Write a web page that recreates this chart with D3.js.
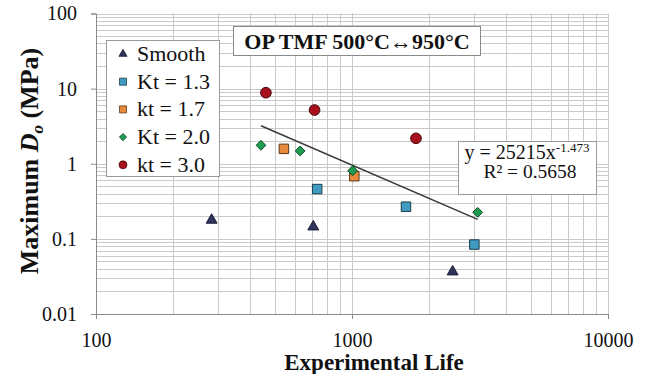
<!DOCTYPE html>
<html>
<head>
<meta charset="utf-8">
<script src="https://cdn.jsdelivr.net/npm/d3@7"></script>
<style>
  html, body { margin: 0; padding: 0; background: #fff; }
  svg { display: block; }
  svg text { font-family: "Liberation Serif", "Times New Roman", serif; fill: #111; }
</style>
</head>
<body>
<svg id="chart" width="646" height="374"></svg>
<script>
// Test data: experimental life vs. maximum D_o for each notch severity
const seriesNames = ["Smooth", "Kt = 1.3", "kt = 1.7", "Kt = 2.0", "kt = 3.0"];
const smoothLife = [283, 706, 2472];
const smoothDo   = [0.178, 0.145, 0.0365];
const kt13Life   = [731, 1625, 3006];
const kt13Do     = [0.46, 0.268, 0.084];
const kt17Life   = [542, 1021];
const kt17Do     = [1.58, 0.682];
const kt20Life   = [441, 627, 1006, 3097];
const kt20Do     = [1.76, 1.48, 0.807, 0.2255];
const kt30Life   = [461, 714, 1778];
const kt30Do     = [8.82, 5.19, 2.18];

// Power-law fit over the notched specimens
const fitCoef = 25215;
const fitExp  = -1.473;
const fitR2   = 0.5658;

const xTicks = [100, 1000, 10000];
const yTicks = [0.01, 0.1, 1, 10, 100];

const FONT = "Liberation Serif";
const svg = d3.select("#chart");
const x = d3.scaleLog().domain([100, 10000]).range([96, 608]);
const y = d3.scaleLog().domain([0.01, 100]).range([314, 13.5]);

// grid: every 1..9 step in each decade
const gridX = [], gridY = [];
[100, 1000].forEach(d => { for (let k = 1; k <= 10; k++) gridX.push(d * k); });
[0.01, 0.1, 1, 10].forEach(d => { for (let k = 1; k <= 10; k++) gridY.push(+(d * k).toPrecision(3)); });

const grid = svg.append("g").attr("stroke", "#c9c9c9").attr("stroke-width", 1);
grid.selectAll("line.gx").data(gridX).join("line")
  .attr("x1", d => Math.round(x(d)) + 0.5).attr("x2", d => Math.round(x(d)) + 0.5)
  .attr("y1", y(0.01)).attr("y2", y(100));
grid.selectAll("line.gy").data(gridY).join("line")
  .attr("y1", d => Math.round(y(d)) + 0.5).attr("y2", d => Math.round(y(d)) + 0.5)
  .attr("x1", x(100)).attr("x2", x(10000));

// axes
const xAxis = svg.append("g").attr("transform", `translate(0,${y(0.01)})`)
  .call(d3.axisBottom(x).tickValues(xTicks).tickFormat(d => String(d)).tickSize(5).tickPadding(14));
const yAxis = svg.append("g").attr("transform", `translate(${x(100)},0)`)
  .call(d3.axisLeft(y).tickValues(yTicks).tickFormat(d => String(d)).tickSize(5).tickPadding(14));
[xAxis, yAxis].forEach(g => {
  g.select(".domain").attr("stroke", "#8a8a8a");
  g.selectAll(".tick line").attr("stroke", "#8a8a8a");
  g.selectAll(".tick text").attr("font-size", 20).attr("fill", "#111").attr("font-family", FONT);
});

// trend line drawn from the fitted equation
const notchedLife = [].concat(kt13Life, kt17Life, kt20Life, kt30Life);
const fitRange = d3.extent(notchedLife);
svg.append("line")
  .attr("x1", x(fitRange[0])).attr("y1", y(fitCoef * Math.pow(fitRange[0], fitExp)))
  .attr("x2", x(fitRange[1])).attr("y2", y(fitCoef * Math.pow(fitRange[1], fitExp)))
  .attr("stroke", "#3a3a3a").attr("stroke-width", 1.6);

// square-based diamond (rotated square)
const squareDiamond = {
  draw(ctx, size) {
    const r = Math.sqrt(size / 2);
    ctx.moveTo(0, -r); ctx.lineTo(r, 0); ctx.lineTo(0, r); ctx.lineTo(-r, 0); ctx.closePath();
  }
};

// markers
const styles = [
  { shape: d3.symbolTriangle, size: 52, fill: "#30345a", stroke: "#1c1f3a" },
  { shape: d3.symbolSquare,   size: 90, fill: "#3f9cc0", stroke: "#1d3b4a" },
  { shape: d3.symbolSquare,   size: 90, fill: "#e88a3c", stroke: "#5a3a1e" },
  { shape: squareDiamond,     size: 48, fill: "#1f9a52", stroke: "#0f4a28" },
  { shape: d3.symbolCircle,   size: 90, fill: "#a8101c", stroke: "#4a0a0e" }
];
const series = [
  [smoothLife, smoothDo], [kt13Life, kt13Do], [kt17Life, kt17Do],
  [kt20Life, kt20Do], [kt30Life, kt30Do]
];
series.forEach(([lx, ly], i) => {
  const s = styles[i];
  svg.append("g").selectAll("path").data(lx.map((v, j) => [v, ly[j]])).join("path")
    .attr("d", d3.symbol().type(s.shape).size(s.size))
    .attr("transform", d => `translate(${x(d[0])},${y(d[1])})`)
    .attr("fill", s.fill).attr("stroke", s.stroke).attr("stroke-width", 1);
});

// legend
const lg = svg.append("g");
lg.append("rect").attr("x", 106.5).attr("y", 40.5).attr("width", 113).attr("height", 136)
  .attr("fill", "#fff").attr("stroke", "#9a9a9a");
seriesNames.forEach((name, i) => {
  const cy = 54 + i * 27.7;
  const s = styles[i];
  lg.append("path").attr("d", d3.symbol().type(s.shape).size(s.size * 0.55))
    .attr("transform", `translate(123,${cy})`)
    .attr("fill", s.fill).attr("stroke", s.stroke).attr("stroke-width", 0.8);
  lg.append("text").attr("x", 137).attr("y", cy + 7).attr("font-size", 22)
    .attr("font-family", FONT).text(name);
});

// test condition box
svg.append("rect").attr("x", 233.5).attr("y", 26.5).attr("width", 247).attr("height", 29)
  .attr("fill", "#fff").attr("stroke", "#8a8a8a");
svg.append("text").attr("x", 357).attr("y", 48.5).attr("text-anchor", "middle")
  .attr("font-family", FONT).attr("font-size", 22).attr("font-weight", "bold")
  .text("OP TMF 500°C\u2194950°C");

// equation box
svg.append("rect").attr("x", 458.5).attr("y", 141.5).attr("width", 138).attr("height", 53)
  .attr("fill", "#fff").attr("stroke", "#9a9a9a");
const eq = svg.append("text").attr("x", 527).attr("y", 158.5).attr("text-anchor", "middle")
  .attr("font-family", FONT).attr("font-size", 20);
eq.append("tspan").text(`y = ${fitCoef}x`);
eq.append("tspan").attr("dy", -7).attr("font-size", 13).text(String(fitExp));
svg.append("text").attr("x", 530).attr("y", 178).attr("text-anchor", "middle")
  .attr("font-family", FONT).attr("font-size", 19.5).text(`R² = ${fitR2}`);

// axis titles
svg.append("text").attr("x", 374).attr("y", 370).attr("text-anchor", "middle")
  .attr("font-family", FONT).attr("font-size", 23).attr("font-weight", "bold")
  .text("Experimental Life");
const yt = svg.append("text").attr("transform", "translate(38,161) rotate(-90)")
  .attr("text-anchor", "middle").attr("font-family", FONT)
  .attr("font-size", 26).attr("font-weight", "bold");
yt.append("tspan").text("Maximum ");
yt.append("tspan").attr("font-style", "italic").text("D");
yt.append("tspan").attr("font-size", 17).attr("font-style", "italic").attr("dy", 5).text("o");
yt.append("tspan").attr("dy", -5).text(" (MPa)");
</script>
</body>
</html>
